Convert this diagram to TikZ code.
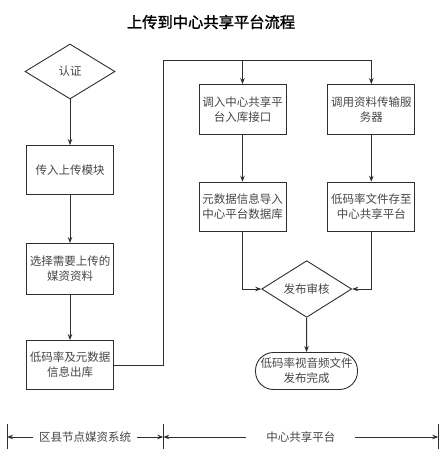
\documentclass[tikz,border=0pt]{standalone}
\usepackage{fontspec}
\setmainfont{Noto Sans CJK SC}[AutoFakeBold=1.5]
\usetikzlibrary{arrows.meta, positioning, shapes.geometric}
\definecolor{lnline}{HTML}{2E2E2E}
\definecolor{txgray}{HTML}{454545}

\begin{document}
\begin{tikzpicture}[x=1pt, y=-1pt, >={Stealth[length=6pt, width=4.5pt]},
  every node/.style={text=txgray, font=\fontsize{11.5}{15}\selectfont},
  procbox/.style={draw=lnline, line width=0.9pt, align=center, inner sep=0pt,
    minimum width=87pt, minimum height=49pt},
  decide/.style={draw=lnline, line width=0.9pt, diamond, inner sep=0pt,
    minimum width=90pt, minimum height=55pt},
  finish/.style={draw=lnline, line width=0.9pt, align=center, inner sep=0pt,
    rounded corners=18pt, minimum width=102pt, minimum height=37pt},
  flow/.style={draw=lnline, line width=0.9pt, ->},
  span/.style={draw=lnline, line width=0.9pt, <->}]

% Canvas
\useasboundingbox (0,0) rectangle (445,460);

% Title
\node[font=\fontsize{15.3}{18}\selectfont\bfseries, text=black] (title) at (211,22)
  {上传到中心共享平台流程};

% Left column: local media system
\node[decide] (auth) at (70,71.5) {认证};
\node[procbox] (upload) at (70,170) {传入上传模块};
\node[procbox, minimum height=51pt] (pick) at (70,269) {选择需要上传的\\媒资资料};
\node[procbox] (export) at (70,365) {低码率及元数据\\信息出库};

% Right part: central platform
\node[procbox, minimum height=50pt] (api) at (242.5,109.5) {调入中心共享平\\台入库接口};
\node[procbox, minimum height=50pt] (xfer) at (371.3,109.5) {调用资料传输服\\务器};
\node[procbox] (meta) at (242.5,206.7) {元数据信息导入\\中心平台数据库};
\node[procbox] (store) at (371.3,206.7) {低码率文件存至\\中心共享平台};
\node[decide] (review) at (306.7,289) {发布审核};
\node[finish] (done) at (306.5,371) {低码率视音频文件\\发布完成};

% Connectors
\coordinate (bus) at (163,60.3);
\draw[flow] (auth) -- (upload);
\draw[flow] (upload) -- (pick);
\draw[flow] (pick) -- (export);
\draw[flow] (export.east) -| (bus) -| (xfer.north);
\draw[flow] (bus) -| (api.north);
\draw[flow] (api) -- (meta);
\draw[flow] (xfer) -- (store);
\draw[flow] (meta.south) |- (review.west);
\draw[flow] (store.south) |- (review.east);
\draw[flow] (review) -- (done);

% Bottom scale
\coordinate (lt) at (7,437);
\coordinate (mt) at (163.3,437);
\coordinate (rt) at (438.3,437);
\foreach \c in {lt,mt,rt}
  \draw[lnline, line width=0.9pt] ([yshift=-12pt]\c) -- ([yshift=13pt]\c);
\draw[span] (lt) -- node[fill=white, inner xsep=6pt] (lsys) {区县节点媒资系统} (mt);
\draw[span] (mt) -- node[fill=white, inner xsep=20pt] (csys) {中心共享平台} (rt);

\end{tikzpicture}
\end{document}
